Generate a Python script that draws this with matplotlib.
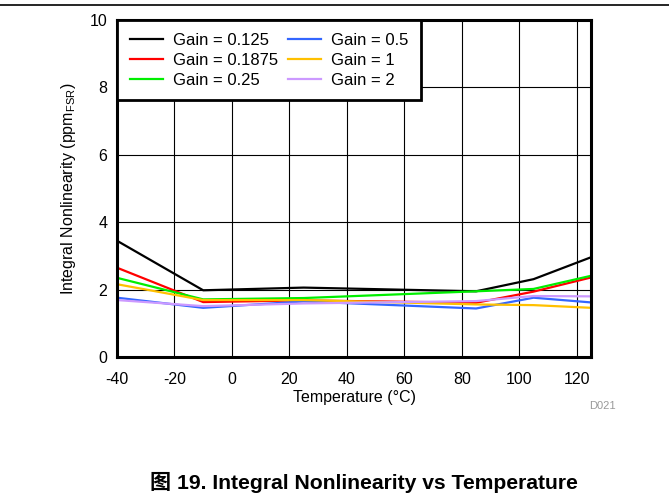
import matplotlib.pyplot as plt
from matplotlib.lines import Line2D

plt.rcParams['font.family'] = ['Liberation Sans', 'Noto Sans CJK SC', 'DejaVu Sans']
plt.rcParams['mathtext.fontset'] = 'custom'
plt.rcParams['mathtext.rm'] = 'Liberation Sans'
plt.rcParams['axes.unicode_minus'] = False

temps = [-40, -10, 25, 85, 105, 125]
gain_0125 = [3.45, 1.98, 2.06, 1.95, 2.31, 2.96]
gain_01875 = [2.65, 1.63, 1.68, 1.61, 1.94, 2.36]
gain_025 = [2.35, 1.71, 1.75, 1.95, 2.02, 2.41]
gain_05 = [1.76, 1.46, 1.65, 1.44, 1.76, 1.62]
gain_1 = [2.16, 1.69, 1.69, 1.56, 1.54, 1.46]
gain_2 = [1.69, 1.51, 1.59, 1.66, 1.81, 1.80]

series = [
    ("Gain = 0.125", gain_0125, "#000000"),
    ("Gain = 0.1875", gain_01875, "#ff0000"),
    ("Gain = 0.25", gain_025, "#00ee00"),
    ("Gain = 0.5", gain_05, "#3366ff"),
    ("Gain = 1", gain_1, "#ffc000"),
    ("Gain = 2", gain_2, "#cc99ff"),
]

fig = plt.figure(figsize=(6.69, 4.98), dpi=100)
ax = fig.add_axes([0.1749, 0.2831, 0.7085, 0.6767])

for label, vals, color in series:
    ax.plot(temps, vals, color=color, lw=1.6, label=label)

ax.set_xlim(-40, 125)
ax.set_ylim(0, 10)
ax.set_xticks(range(-40, 121, 20))
ax.set_yticks(range(0, 11, 2))
ax.grid(True, color='black', lw=0.8)
ax.set_axisbelow(True)
ax.tick_params(axis='x', length=0, labelsize=11.5, pad=11)
ax.tick_params(axis='y', length=0, labelsize=11.5, pad=7)
for s in ax.spines.values():
    s.set_linewidth(2.2)

ax.set_xlabel("Temperature (°C)", fontsize=11.5, labelpad=2)
ax.set_ylabel(r"Integral Nonlinearity (ppm$_{\mathrm{FSR}}$)", fontsize=11.5, labelpad=8)

leg = ax.legend(ncol=2, loc='upper left', bbox_to_anchor=(0, 1), borderaxespad=0,
                fontsize=12, handlelength=2.0, labelspacing=0.3, columnspacing=0.6,
                handletextpad=0.6, fancybox=False, framealpha=1, edgecolor='black',
                borderpad=0.75)
leg.get_frame().set_linewidth(2)

fig.text(0.9, 0.178, "D021", color='#999999', fontsize=8, ha='center')
fig.text(0.544, 0.018, "图 19. Integral Nonlinearity vs Temperature", fontsize=15.2,
         fontweight='bold', ha='center')
fig.add_artist(Line2D([0, 1], [0.99, 0.99], color='black', lw=1.2, transform=fig.transFigure))

fig.savefig("out.png", dpi=100)
